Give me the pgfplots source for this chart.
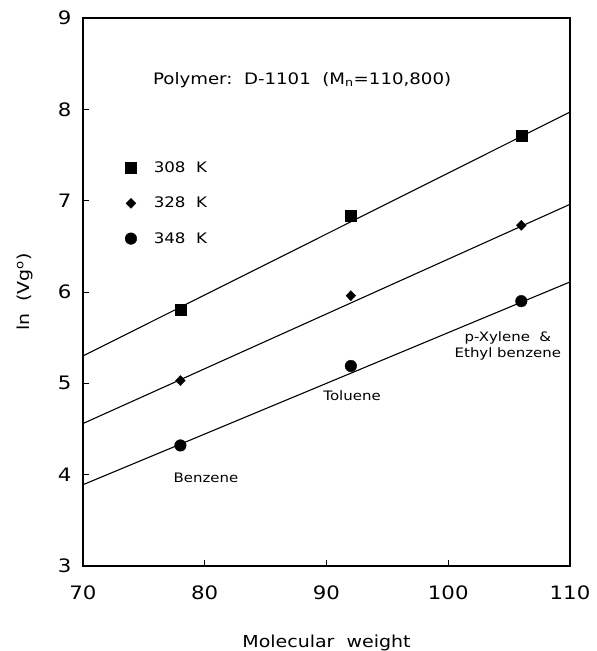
\documentclass[border=0pt]{standalone}
\usepackage{pgfplots}
\pgfplotsset{compat=1.18}
\usepackage{fontspec}
\setmainfont{DejaVu Sans}[FakeStretch=1.15]
\begin{document}
\begin{tikzpicture}[x=1pt,y=1pt]
\useasboundingbox (-83pt,-85pt) rectangle (514pt,566pt);
\begin{axis}[
  at={(0pt,0pt)}, anchor=south west,
  scale only axis, clip=false,
  width=487pt, height=548pt,
  xmin=70, xmax=110, ymin=3, ymax=9,
  xtick={70,80,...,110}, ytick={3,4,...,9},
  tick align=inside,
  xtick pos=bottom, ytick pos=left,
  major tick length=6pt,
  axis line style={line width=1.3pt},
  every tick/.style={black, line width=0.9pt},
  /pgf/number format/assume math mode=true,
  tick label style={font=\fontsize{18.5}{18.5}\selectfont},
  xticklabel style={yshift=-16pt},
  yticklabel style={xshift=-8pt},
  xlabel={Molecular\ \ weight},
  ylabel={ln\ \ (Vg\textsuperscript{o})},
  label style={font=\fontsize{16.5}{16.5}\selectfont},
  xlabel style={at={(axis description cs:0.5,-0.1405)}, anchor=center},
  ylabel style={at={(axis description cs:-0.119,0.5)}, anchor=center},
  legend style={draw=none, fill=none, at={(axis cs:73.2,7.47)}, anchor=north west,
    font=\fontsize{14.5}{14.5}\selectfont, row sep=19pt,
    legend cell align=left},
  legend image code/.code={\draw plot coordinates {(0.3cm,0cm)};},
]
\addplot[black, line width=1.1pt, forget plot] coordinates {(70,5.30) (110,7.97)};
\addplot[black, line width=1.1pt, forget plot] coordinates {(70,4.56) (110,6.96)};
\addplot[black, line width=1.1pt, forget plot] coordinates {(70,3.89) (110,6.11)};
\addplot[only marks, mark=square*, mark size=5.5pt, black] coordinates {(78,5.81) (92,6.83) (106,7.71)};
\addlegendentry{\hspace{15pt}308\ \ K}
\addplot[only marks, mark=diamond*, mark size=5pt, mark options={xscale=1.3}, black] coordinates {(78,5.03) (92,5.96) (106,6.73)};
\addlegendentry{\hspace{15pt}328\ \ K}
\addplot[only marks, mark=*, mark size=5.8pt, black] coordinates {(78,4.32) (92,5.19) (106,5.90)};
\addlegendentry{\hspace{15pt}348\ \ K}
\node[font=\fontsize{15.8}{15.8}\selectfont] at (axis cs:88.0,8.32) {Polymer:\ \ D-1101\ \ (M\textsubscript{n}=110,800)};
\node[font=\fontsize{13}{13}\selectfont] at (axis cs:80.1,3.97) {Benzene};
\node[font=\fontsize{13}{13}\selectfont] at (axis cs:92.1,4.87) {Toluene};
\node[font=\fontsize{13}{13}\selectfont, align=center] at (axis cs:104.9,5.41) {p-Xylene\ \ \&\\[3pt] Ethyl\ benzene};
\end{axis}
\end{tikzpicture}
\end{document}
